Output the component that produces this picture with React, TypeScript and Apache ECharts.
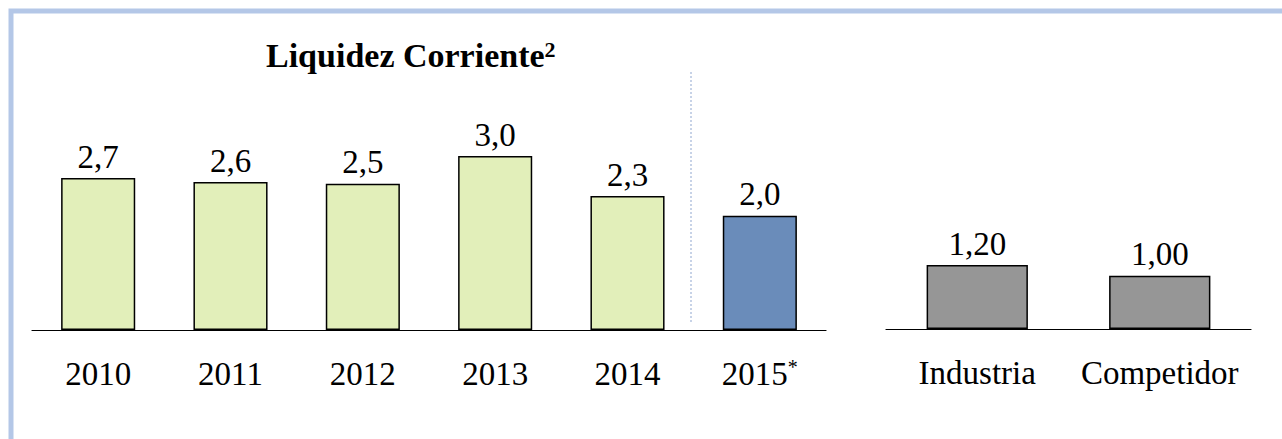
import React, { useEffect, useRef } from 'react';
import * as echarts from 'echarts';

const years = ['2010', '2011', '2012', '2013', '2014', '2015*'];
const yearValues = [2.62, 2.55, 2.52, 3.0, 2.31, 1.97];
const yearLabels = ['2,7', '2,6', '2,5', '3,0', '2,3', '2,0'];
const peers = ['Industria', 'Competidor'];
const peerValues = [1.2, 1.0];
const peerLabels = ['1,20', '1,00'];
const titleText = 'Liquidez Corriente';
const titleSup = '2';

const FONT = '"Liberation Serif", "Times New Roman", serif';
const GREEN = '#E2EFBA';
const BLUE = '#6A8CBA';
const GRAY = '#969696';

export default function App() {
  const ref = useRef<HTMLDivElement>(null);
  useEffect(() => {
    if (!ref.current) return;
    const chart = echarts.init(ref.current, undefined, { renderer: 'svg' });
    const catLabel = {
      color: '#000',
      fontFamily: FONT,
      fontSize: 33,
      margin: 27,
      interval: 0,
      formatter: (v: string) => (v.endsWith('*') ? v.slice(0, -1) + '{s|*}' : v),
      rich: { s: { fontSize: 20, fontFamily: FONT, color: '#000', verticalAlign: 'top' } },
    };
    const axisLine = { show: true, lineStyle: { color: '#000', width: 1.2 } };
    const valueLabel = {
      show: true,
      position: 'top',
      distance: 5,
      fontFamily: FONT,
      fontSize: 33,
      color: '#000',
    };
    chart.setOption({
      animation: false,
      backgroundColor: '#fff',
      title: {
        text: titleText + '{s|' + titleSup + '}',
        left: 261,
        top: 33,
        textStyle: {
          fontFamily: FONT,
          fontWeight: 'bold',
          fontSize: 34,
          color: '#000',
          rich: { s: { fontFamily: FONT, fontWeight: 'bold', fontSize: 22, color: '#000', verticalAlign: 'top' } },
        },
      },
      grid: [
        { left: 32, width: 794, top: 98, bottom: 109 },
        { left: 886, width: 365, top: 116, bottom: 110 },
      ],
      xAxis: [
        { type: 'category', gridIndex: 0, data: years, axisTick: { show: false }, axisLine, axisLabel: catLabel },
        { type: 'category', gridIndex: 1, data: peers, axisTick: { show: false }, axisLine, axisLabel: catLabel },
      ],
      yAxis: [
        { type: 'value', gridIndex: 0, min: 0, max: 4, show: false },
        { type: 'value', gridIndex: 1, min: 0, max: 4, show: false },
      ],
      series: [
        {
          type: 'bar',
          xAxisIndex: 0,
          yAxisIndex: 0,
          barWidth: '56%',
          data: yearValues.map((v, i) => ({
            value: v,
            itemStyle: { color: i === yearValues.length - 1 ? BLUE : GREEN },
          })),
          itemStyle: { borderColor: '#000', borderWidth: 1.5 },
          label: { ...valueLabel, formatter: (p: any) => yearLabels[p.dataIndex] },
        },
        {
          type: 'bar',
          xAxisIndex: 1,
          yAxisIndex: 1,
          barWidth: '55.5%',
          data: peerValues,
          itemStyle: { color: GRAY, borderColor: '#000', borderWidth: 1.5 },
          label: { ...valueLabel, formatter: (p: any) => peerLabels[p.dataIndex] },
        },
      ],
      graphic: [
        {
          type: 'polyline',
          shape: { points: [[11, 440], [11, 11], [1290, 11]] },
          style: { stroke: '#B4C7E7', lineWidth: 5, fill: 'none' },
          silent: true,
        },
        {
          type: 'line',
          shape: { x1: 691, y1: 72, x2: 691, y2: 322 },
          style: { stroke: '#8FA6CF', lineWidth: 1, lineDash: [2, 2] },
          silent: true,
        },
      ],
    });
    return () => chart.dispose();
  }, []);
  return (
    <div
      ref={ref}
      style={{ position: 'fixed', left: 0, top: 0, width: 1282, height: 439, background: '#fff' }}
    />
  );
}
